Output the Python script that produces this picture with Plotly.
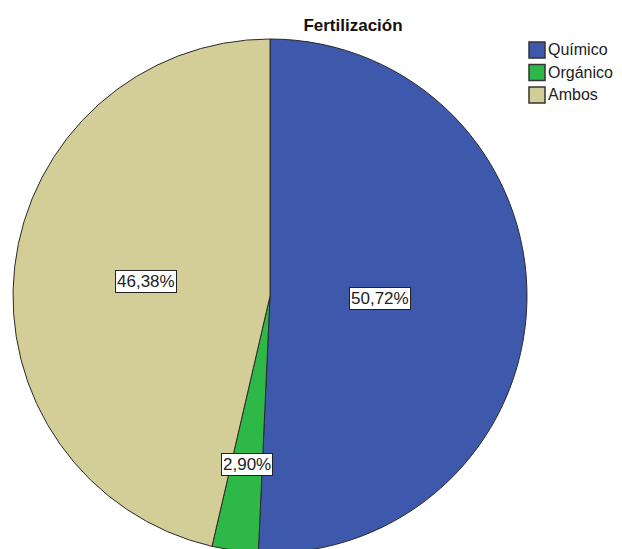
import math
import plotly.graph_objects as go

# Fertilización: frecuencias por tipo
categories = ["Químico", "Orgánico", "Ambos"]
counts = [35, 2, 32]
colors = ["#3E58AC", "#2EB848", "#D3CE97"]

W, H = 622, 549
FONT = "Liberation Sans, Arial"
# page body has an 8px margin, so figure pixels = screen pixels - 8
cx, cy, R = 262, 288, 257

fig = go.Figure(go.Pie(
    labels=categories,
    values=counts,
    sort=False,
    direction="clockwise",
    rotation=0,
    marker=dict(colors=colors, line=dict(color="#2a2a2a", width=1)),
    textinfo="none",
    hoverinfo="label+percent",
    showlegend=False,
    domain=dict(x=[(cx - R) / W, (cx + R) / W], y=[1 - (cy + R) / H, 1 - (cy - R) / H]),
))

# boxed percentage labels along each slice's mid angle
label_r = [0.43, 0.66, 0.486]
total = sum(counts)
cum = 0
for v, rf in zip(counts, label_r):
    mid = (cum + v / 2) / total * 2 * math.pi
    cum += v
    lx = cx + rf * R * math.sin(mid)
    ly = cy - rf * R * math.cos(mid)
    pct = f"{100 * v / total:.2f}".replace(".", ",") + "%"
    fig.add_annotation(
        x=lx / W, y=1 - ly / H, xref="paper", yref="paper",
        xanchor="center", yanchor="middle",
        text=pct, showarrow=False,
        font=dict(family=FONT, size=17, color="#222"),
        bgcolor="white", bordercolor="#222", borderwidth=1, borderpad=1,
    )

# legend drawn as boxes + text (SPSS style)
lx0, ly0, box, step = 521, 34, 16, 22.5
for i, (name, col) in enumerate(zip(categories, colors)):
    top = ly0 + i * step
    fig.add_shape(type="rect", xref="paper", yref="paper",
                  x0=lx0 / W, x1=(lx0 + box) / W,
                  y0=1 - (top + box) / H, y1=1 - top / H,
                  fillcolor=col, line=dict(color="#333", width=1.5))
    fig.add_annotation(x=(lx0 + box + 1) / W, y=1 - (top + box / 2) / H,
                       xref="paper", yref="paper", xanchor="left", yanchor="middle",
                       text=name, showarrow=False,
                       font=dict(family=FONT, size=16, color="#222"))

fig.update_layout(
    width=W, height=H,
    margin=dict(l=0, r=0, t=0, b=0),
    paper_bgcolor="white",
    showlegend=False,
    title=dict(text="<b>Fertilización</b>", x=345 / W, xanchor="center",
               y=1 - 17 / H, yanchor="middle",
               font=dict(family=FONT, size=17, color="#111")),
)

fig.write_html("out.html")
